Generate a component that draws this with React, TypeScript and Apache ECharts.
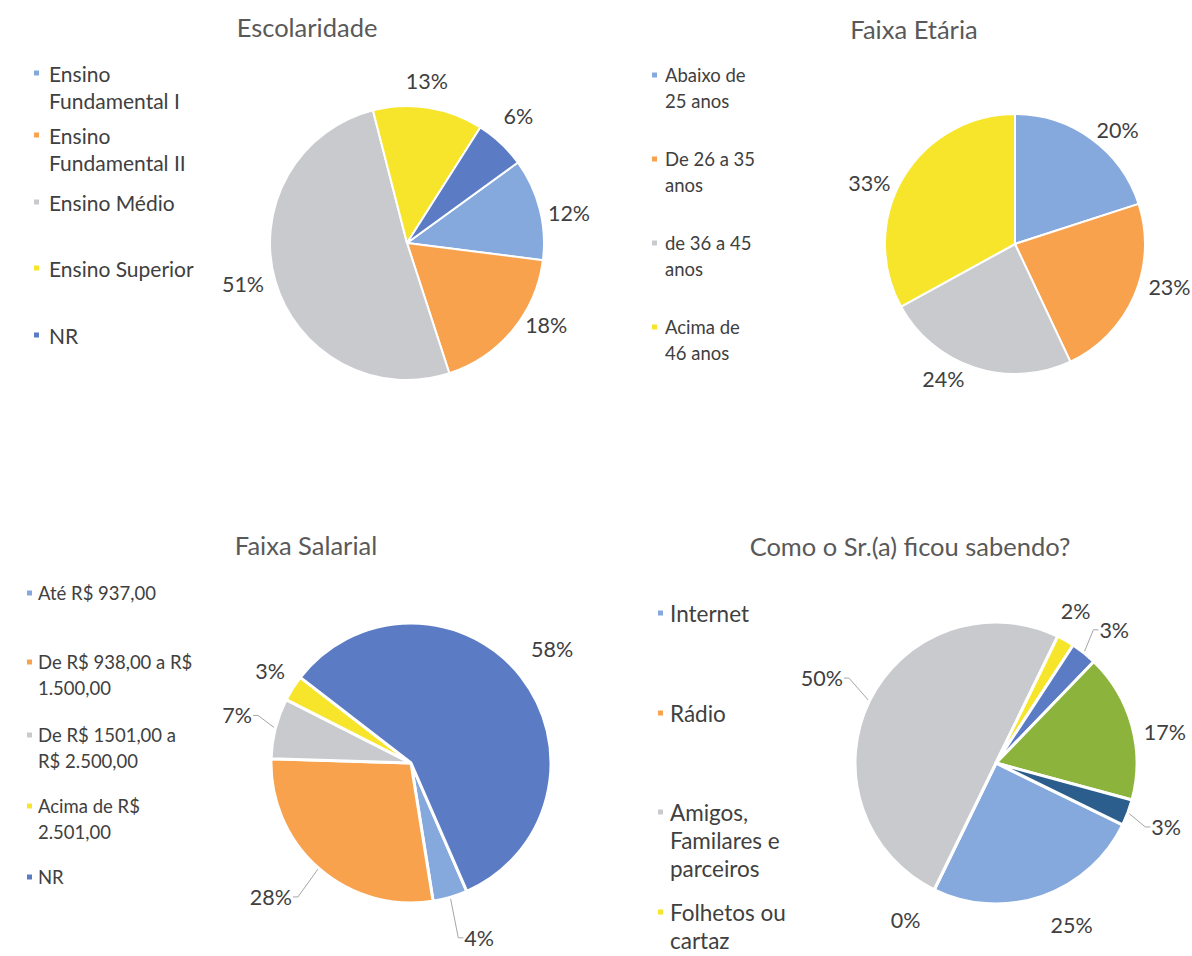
import React, { useEffect, useRef } from "react";
import * as echarts from "echarts";

// ---------- DATA ----------
const escolaridadeCategories = ["Ensino Fundamental I", "Ensino Fundamental II", "Ensino Médio", "Ensino Superior", "NR"];
const escolaridadeLegendLabels = ["Ensino\nFundamental I", "Ensino\nFundamental II", "Ensino Médio", "Ensino Superior", "NR"];
const escolaridadeValues = [12, 18, 51, 13, 6];

const faixaEtariaCategories = ["Abaixo de 25 anos", "De 26 a 35 anos", "de 36 a 45 anos", "Acima de 46 anos"];
const faixaEtariaLegendLabels = ["Abaixo de\n25 anos", "De 26 a 35\nanos", "de 36 a 45\nanos", "Acima de\n46 anos"];
const faixaEtariaValues = [20, 23, 24, 33];

const faixaSalarialCategories = ["Até R$ 937,00", "De R$ 938,00 a R$ 1.500,00", "De R$ 1501,00 a R$ 2.500,00", "Acima de R$ 2.501,00", "NR "];
const faixaSalarialLegendLabels = ["Até R$ 937,00", "De R$ 938,00 a R$\n1.500,00", "De R$ 1501,00 a\nR$ 2.500,00", "Acima de R$\n2.501,00", "NR"];
const faixaSalarialValues = [4, 28, 7, 3, 58];

const comoSoubeCategories = ["Internet", "Rádio", "Amigos, Familares e parceiros", "Folhetos ou cartaz", "Outro A", "Outro B", "Outro C"];
const comoSoubeLegendLabels = ["Internet", "Rádio", "Amigos,\nFamilares e\nparceiros", "Folhetos ou\ncartaz"];
const comoSoubeValues = [25, 0, 50, 2, 3, 17, 3];

const titles = ["Escolaridade", "Faixa Etária", "Faixa Salarial", "Como o Sr.(a) ficou sabendo?"];

// ---------- STYLE ----------
const FONT = "Lato, 'Noto Sans', sans-serif";
const TEXT = "#404040";
const BLUE = "#86A9DD";
const ORANGE = "#F8A24E";
const GRAY = "#C9CACE";
const YELLOW = "#F7E52C";
const DARKBLUE = "#5B7CC4";
const GREEN = "#8CB43C";
const NAVY = "#2C5E8D";

function labelLayoutFor(
  values: number[],
  startClock: number,
  cx: number,
  cy: number,
  r: number,
  gaps: number[],
  shifts: number[],
  lines: boolean[]
) {
  const total = values.reduce((a, b) => a + b, 0);
  let acc = 0;
  const mids = values.map((v) => {
    const m = startClock + ((acc + v / 2) / total) * 360;
    acc += v;
    return m;
  });
  return (params: any) => {
    const i = params.dataIndex;
    const rad = ((mids[i] + shifts[i]) * Math.PI) / 180;
    const dx = Math.sin(rad);
    const dy = -Math.cos(rad);
    const w = params.labelRect.width;
    const h = params.labelRect.height;
    const d = r + gaps[i] + (Math.abs(dx) * w) / 2 + (Math.abs(dy) * h) / 2;
    const x = cx + dx * d;
    const y = cy + dy * d;
    const res: any = { x, y, align: "center", verticalAlign: "middle" };
    if (lines[i]) {
      const mrad = (mids[i] * Math.PI) / 180;
      const mx = Math.sin(mrad);
      const my = -Math.cos(mrad);
      const s = dx >= 0 ? 1 : -1;
      const sx = x - s * (w / 2 + 1);
      res.labelLinePoints = [
        [cx + mx * r, cy + my * r],
        [sx - s * 5, y],
        [sx, y],
      ];
    }
    return res;
  };
}

function pieSeries(
  categories: string[],
  values: number[],
  colors: string[],
  cx: number,
  cy: number,
  r: number,
  startClock: number,
  gaps: number[],
  shifts: number[],
  lines: boolean[],
  border: number
) {
  return {
    type: "pie",
    center: [cx, cy],
    radius: r,
    startAngle: 90 - startClock,
    clockwise: true,
    silent: true,
    avoidLabelOverlap: false,
    emphasis: { disabled: true },
    itemStyle: { borderColor: "#ffffff", borderWidth: border },
    label: {
      show: true,
      position: "outside",
      formatter: (p: any) => `${p.value}%`,
      fontFamily: FONT,
      fontSize: 21.5,
      color: TEXT,
    },
    labelLine: { show: false, lineStyle: { color: "#A6A6A6", width: 1 } },
    labelLayout: labelLayoutFor(values, startClock, cx, cy, r, gaps, shifts, lines),
    data: categories.map((name, i) => ({
      name,
      value: values[i],
      itemStyle: { color: colors[i] },
      labelLine: { show: lines[i], length: 10, length2: 5 },
    })),
  };
}

function legendItems(
  names: string[],
  labels: string[],
  left: number,
  ys: number[],
  lineH: number,
  fontSize: number,
  textGap: number,
  colors: string[]
) {
  return labels.map((label, i) => {
    const nLines = label.split("\n").length;
    // leading empty lines keep the first text line level with the icon
    const shown = "\n".repeat(nLines - 1) + label;
    return {
      data: [{ name: names[i], itemStyle: { color: colors[i] } }],
      left,
      top: ys[i] - ((2 * nLines - 1) * lineH) / 2,
      orient: "vertical",
      padding: 0,
      itemWidth: 7,
      itemHeight: 7,
      icon: "rect",
      selectedMode: false,
      formatter: () => shown,
      textStyle: {
        fontFamily: FONT,
        fontSize,
        color: TEXT,
        lineHeight: lineH,
        padding: [0, 0, 0, textGap],
      },
    };
  });
}

function titleAt(text: string, x: number, y: number) {
  return {
    text,
    left: x,
    top: y,
    textAlign: "center",
    textVerticalAlign: "middle",
    padding: 0,
    textStyle: { fontFamily: FONT, fontSize: 25.5, fontWeight: "normal", color: "#595959" },
  };
}

export default function App() {
  const ref = useRef<HTMLDivElement>(null);

  useEffect(() => {
    if (!ref.current) return;
    const chart = echarts.init(ref.current, undefined, { renderer: "svg" });

    const c1 = [BLUE, ORANGE, GRAY, YELLOW, DARKBLUE];
    const c2 = [BLUE, ORANGE, GRAY, YELLOW];
    const c3 = [BLUE, ORANGE, GRAY, YELLOW, DARKBLUE];
    const c4 = [BLUE, ORANGE, GRAY, YELLOW, DARKBLUE, GREEN, NAVY];

    const option: any = {
      animation: false,
      backgroundColor: "#ffffff",
      title: [
        titleAt(titles[0], 307, 27),
        titleAt(titles[1], 914, 29),
        titleAt(titles[2], 306, 545),
        titleAt(titles[3], 910, 546),
      ],
      legend: [
        ...legendItems(escolaridadeCategories, escolaridadeLegendLabels, 32, [73, 135, 202, 268, 335], 27, 21, 4, c1),
        ...legendItems(faixaEtariaCategories, faixaEtariaLegendLabels, 650, [75, 159, 243, 327], 26, 18.5, 2, c2),
        ...legendItems(faixaSalarialCategories, faixaSalarialLegendLabels, 25, [593, 662, 735, 806, 877], 26, 18.5, 0, c3),
        ...legendItems(comoSoubeCategories.slice(0, 4), comoSoubeLegendLabels, 656, [613, 713, 812, 912], 28, 22.5, 1, c4),
      ],
      series: [
        pieSeries(escolaridadeCategories, escolaridadeValues, c1, 407, 243, 137, 54,
          [5, 1, 9, 13, 14], [4, -9, 2, -2, -2], [false, false, false, false, false], 2),
        pieSeries(faixaEtariaCategories, faixaEtariaValues, c2, 1015, 244, 130, 0,
          [1, 7, 3, 4], [6, -8, 10, -8], [false, false, false, false], 2),
        pieSeries(faixaSalarialCategories, faixaSalarialValues, c3, 411, 763, 140, 156.5,
          [32, 31, 23, 10, 18], [-5, 5, 1, 1, -1], [true, true, true, false, false], 3),
        pieSeries(comoSoubeCategories, comoSoubeValues, c4, 996, 763, 141, 116,
          [19, 23, 29, 14, 19, 8, 23], [-6, 4, 0, -2, 3, 5, 0], [false, false, true, false, true, false, true], 3),
      ],
    };

    chart.setOption(option);
    return () => chart.dispose();
  }, []);

  return (
    <div
      ref={ref}
      style={{ position: "absolute", left: 0, top: 0, width: 1192, height: 956, background: "#fff" }}
    />
  );
}
